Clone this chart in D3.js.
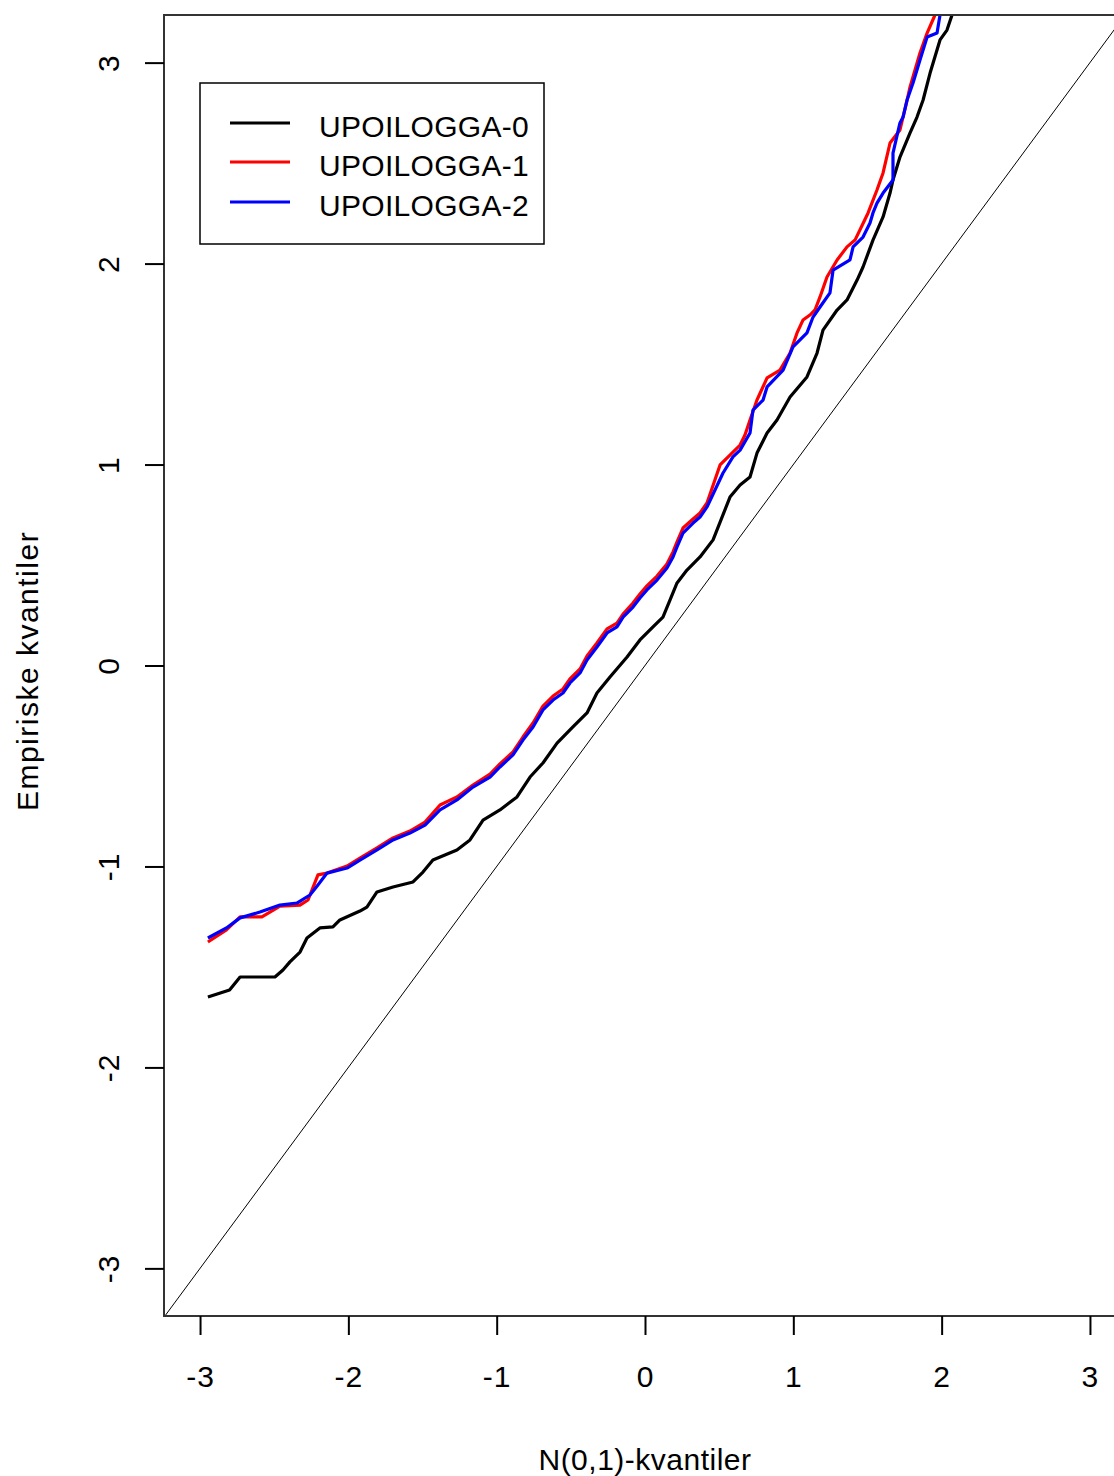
<!DOCTYPE html>
<html>
<head>
<meta charset="utf-8">
<script src="https://cdn.jsdelivr.net/npm/d3@7"></script>
<style>
  html, body { margin: 0; padding: 0; background: #fff; }
  svg { display: block; }
  text { font-family: "Liberation Sans", Arial, sans-serif; fill: #000; }
</style>
</head>
<body>
<svg id="chart" width="1114" height="1476"></svg>
<script>
const seriesNames = ["UPOILOGGA-0", "UPOILOGGA-1", "UPOILOGGA-2"];
const seriesColors = ["#000000", "#ff0000", "#0000ff"];

const upoilogga0 = [
  [-2.947,-1.650],[-2.801,-1.615],[-2.730,-1.550],[-2.495,-1.550],[-2.441,-1.515],[-2.394,-1.475],
  [-2.326,-1.426],[-2.279,-1.356],[-2.192,-1.306],[-2.104,-1.301],[-2.057,-1.266],[-1.922,-1.222],
  [-1.875,-1.202],[-1.807,-1.127],[-1.699,-1.102],[-1.564,-1.077],[-1.497,-1.028],[-1.430,-0.968],
  [-1.349,-0.943],[-1.268,-0.918],[-1.180,-0.868],[-1.092,-0.769],[-0.978,-0.719],[-0.863,-0.654],
  [-0.775,-0.555],[-0.688,-0.485],[-0.593,-0.386],[-0.486,-0.306],[-0.391,-0.236],[-0.324,-0.137],
  [-0.236,-0.057],[-0.121,0.042],[-0.034,0.127],[0.054,0.192],[0.121,0.241],[0.169,0.326],
  [0.216,0.411],[0.283,0.475],[0.371,0.540],[0.459,0.625],[0.573,0.838],[0.641,0.898],
  [0.708,0.938],[0.755,1.057],[0.823,1.157],[0.890,1.222],[0.978,1.336],[1.092,1.436],
  [1.160,1.555],[1.200,1.669],[1.295,1.769],[1.362,1.819],[1.430,1.918],[1.470,1.983],
  [1.537,2.117],[1.605,2.232],[1.652,2.351],[1.672,2.416],[1.719,2.530],[1.787,2.650],
  [1.834,2.729],[1.875,2.814],[1.922,2.948],[1.989,3.113],[2.036,3.162],[2.070,3.237],[2.124,3.361]
];
const upoilogga1 = [
  [-2.947,-1.376],[-2.822,-1.316],[-2.730,-1.251],[-2.583,-1.251],[-2.461,-1.197],[-2.326,-1.192],
  [-2.272,-1.167],[-2.205,-1.042],[-2.144,-1.033],[-2.009,-0.998],[-1.922,-0.958],[-1.807,-0.908],
  [-1.699,-0.858],[-1.585,-0.824],[-1.483,-0.779],[-1.382,-0.694],[-1.268,-0.654],[-1.160,-0.595],
  [-1.045,-0.540],[-0.978,-0.490],[-0.890,-0.430],[-0.823,-0.356],[-0.755,-0.286],[-0.688,-0.202],
  [-0.620,-0.152],[-0.553,-0.117],[-0.506,-0.067],[-0.438,-0.017],[-0.391,0.047],[-0.324,0.112],
  [-0.256,0.182],[-0.189,0.211],[-0.148,0.256],[-0.081,0.311],[-0.034,0.356],[0.013,0.396],
  [0.081,0.445],[0.148,0.505],[0.189,0.565],[0.216,0.615],[0.256,0.684],[0.324,0.729],
  [0.371,0.759],[0.418,0.809],[0.506,0.998],[0.593,1.062],[0.641,1.097],[0.674,1.147],
  [0.708,1.222],[0.755,1.321],[0.823,1.431],[0.910,1.470],[0.978,1.555],[1.025,1.655],
  [1.065,1.719],[1.112,1.744],[1.146,1.769],[1.180,1.834],[1.227,1.933],[1.295,2.018],
  [1.362,2.083],[1.416,2.117],[1.504,2.252],[1.564,2.366],[1.605,2.451],[1.652,2.600],
  [1.719,2.665],[1.767,2.814],[1.787,2.879],[1.854,3.048],[1.902,3.147],[1.955,3.237],[1.989,3.361]
];
const upoilogga2 = [
  [-2.947,-1.356],[-2.822,-1.306],[-2.730,-1.256],[-2.596,-1.227],[-2.461,-1.192],[-2.347,-1.182],
  [-2.259,-1.142],[-2.205,-1.092],[-2.144,-1.033],[-2.009,-1.008],[-1.922,-0.968],[-1.807,-0.918],
  [-1.699,-0.868],[-1.585,-0.834],[-1.483,-0.794],[-1.382,-0.719],[-1.268,-0.669],[-1.160,-0.605],
  [-1.045,-0.555],[-0.978,-0.505],[-0.890,-0.445],[-0.823,-0.371],[-0.755,-0.306],[-0.688,-0.221],
  [-0.620,-0.172],[-0.553,-0.137],[-0.506,-0.087],[-0.438,-0.037],[-0.391,0.027],[-0.324,0.092],
  [-0.256,0.162],[-0.189,0.192],[-0.148,0.241],[-0.081,0.291],[-0.034,0.336],[0.013,0.376],
  [0.081,0.425],[0.148,0.485],[0.189,0.540],[0.216,0.590],[0.256,0.659],[0.324,0.709],
  [0.371,0.739],[0.418,0.789],[0.526,0.958],[0.593,1.038],[0.641,1.072],[0.708,1.157],
  [0.728,1.271],[0.796,1.321],[0.823,1.386],[0.931,1.470],[0.998,1.585],[1.045,1.620],
  [1.092,1.655],[1.133,1.734],[1.180,1.784],[1.247,1.854],[1.268,1.968],[1.382,2.018],
  [1.403,2.083],[1.470,2.132],[1.517,2.202],[1.537,2.252],[1.564,2.301],[1.605,2.351],
  [1.672,2.416],[1.672,2.550],[1.719,2.700],[1.740,2.729],[1.767,2.814],[1.807,2.899],
  [1.854,3.013],[1.902,3.127],[1.969,3.147],[1.989,3.237],[2.023,3.361]
];
const xTicks = [-3, -2, -1, 0, 1, 2, 3];
const yTicks = [-3, -2, -1, 0, 1, 2, 3];
const xLabel = "N(0,1)-kvantiler";
const yLabel = "Empiriske kvantiler";

const allSeries = [upoilogga0, upoilogga1, upoilogga2];

// ---- Layout ----
const plot = { left: 164, top: 15, right: 1126, bottom: 1316 };
const svg = d3.select("#chart");

const x = d3.scaleLinear().domain([-3.243, 3.243]).range([plot.left, plot.right]);
const y = d3.scaleLinear().domain([-3.237, 3.237]).range([plot.bottom, plot.top]);

svg.append("defs").append("clipPath").attr("id", "clip")
  .append("rect")
  .attr("x", plot.left).attr("y", plot.top)
  .attr("width", plot.right - plot.left).attr("height", plot.bottom - plot.top);

const g = svg.append("g").attr("clip-path", "url(#clip)");

// reference line y = x
g.append("line")
  .attr("x1", x(-3.243)).attr("y1", y(-3.243))
  .attr("x2", x(3.243)).attr("y2", y(3.243))
  .attr("stroke", "#000").attr("stroke-width", 1);

const line = d3.line().x(d => x(d[0])).y(d => y(d[1]));

allSeries.forEach((s, i) => {
  g.append("path")
    .datum(s)
    .attr("d", line)
    .attr("fill", "none")
    .attr("stroke", seriesColors[i])
    .attr("stroke-width", 3.2)
    .attr("stroke-linejoin", "round")
    .attr("stroke-linecap", "butt");
});

// plot box
svg.append("rect")
  .attr("x", plot.left).attr("y", plot.top)
  .attr("width", plot.right - plot.left).attr("height", plot.bottom - plot.top)
  .attr("fill", "none").attr("stroke", "#333").attr("stroke-width", 2);

const fmt = d => d < 0 ? "-" + Math.abs(d) : String(d);

// x axis
const xAxis = d3.axisBottom(x).tickValues(xTicks).tickSize(19).tickPadding(31).tickFormat(fmt);
const xg = svg.append("g").attr("transform", `translate(0,${plot.bottom})`).call(xAxis);
xg.select(".domain").remove();
xg.selectAll(".tick line").attr("stroke", "#000").attr("stroke-width", 2);
xg.selectAll(".tick text").attr("font-size", 30).attr("font-family", "Liberation Sans, Arial, sans-serif")
  .attr("fill", "#000").attr("letter-spacing", 1);

// y axis
const yAxis = d3.axisLeft(y).tickValues(yTicks).tickSize(19).tickPadding(0).tickFormat(fmt);
const yg = svg.append("g").attr("transform", `translate(${plot.left},0)`).call(yAxis);
yg.select(".domain").remove();
yg.selectAll(".tick line").attr("stroke", "#000").attr("stroke-width", 2);
yg.selectAll(".tick text")
  .attr("font-size", 30).attr("font-family", "Liberation Sans, Arial, sans-serif").attr("fill", "#000")
  .attr("letter-spacing", 1)
  .attr("x", null).attr("dy", null)
  .attr("text-anchor", "middle")
  .attr("transform", "translate(-56,0) rotate(-90)")
  .attr("dominant-baseline", "central");

// axis titles
svg.append("text")
  .attr("x", x(0)).attr("y", 1470)
  .attr("text-anchor", "middle").attr("font-size", 30).attr("letter-spacing", 0.5)
  .text(xLabel);
svg.append("text")
  .attr("transform", `translate(38,671) rotate(-90)`)
  .attr("text-anchor", "middle").attr("font-size", 30).attr("letter-spacing", 1.5)
  .text(yLabel);

// legend
const legend = svg.append("g");
legend.append("rect")
  .attr("x", 200).attr("y", 83).attr("width", 344).attr("height", 161)
  .attr("fill", "#fff").attr("stroke", "#000").attr("stroke-width", 1.5);
const legendY = [123, 162, 202];
seriesNames.forEach((name, i) => {
  legend.append("line")
    .attr("x1", 230).attr("x2", 290).attr("y1", legendY[i]).attr("y2", legendY[i])
    .attr("stroke", seriesColors[i]).attr("stroke-width", 3);
  legend.append("text")
    .attr("x", 319).attr("y", legendY[i] + 3).attr("dy", "0.36em")
    .attr("font-size", 30).attr("letter-spacing", 0.3)
    .text(name);
});
</script>
</body>
</html>
